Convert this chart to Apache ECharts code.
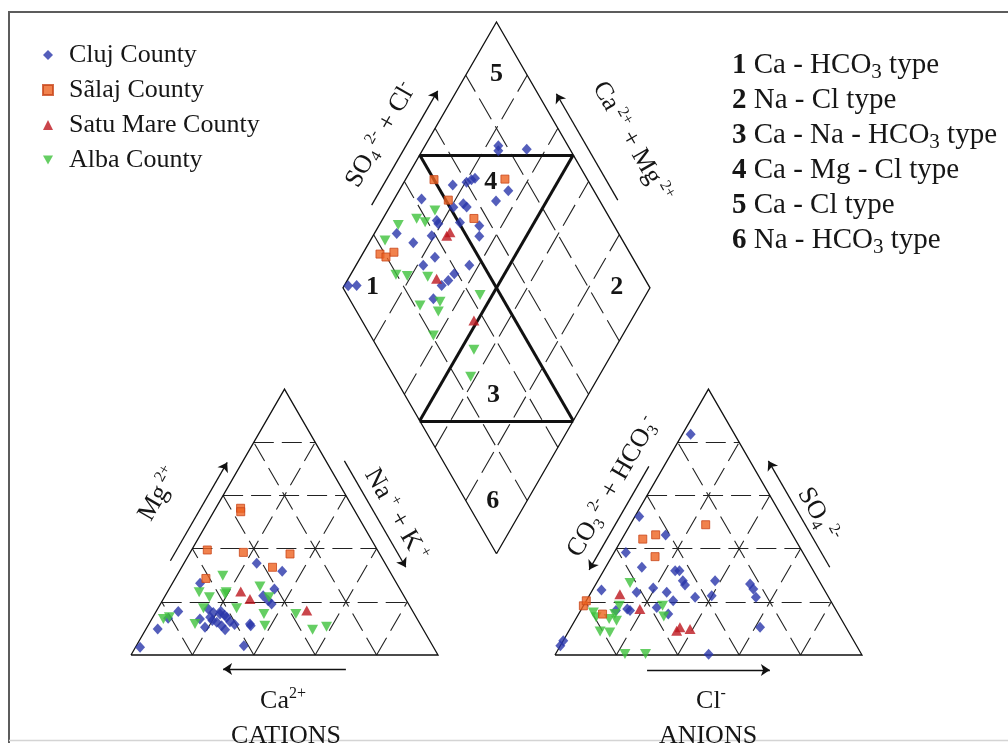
<!DOCTYPE html>
<html>
<head>
<meta charset="utf-8">
<script src="https://cdn.jsdelivr.net/npm/echarts@6/dist/echarts.min.js"></script>
<style>
  html, body { margin: 0; padding: 0; background: #ffffff; }
  #main { width: 1008px; height: 743px; }
</style>
</head>
<body>
<div id="main"></div>
<script>
// ---- Sample compositions (meq %) ----
// Cation triangle: [Mg2+, Na+ + K+]  (Ca2+ is the remainder)
const clujCations = [
  [34.5, 23.7], [31.5, 33.5], [27.0, 9.0], [24.8, 34.3], [22.3, 31.9], [20.4, 34.5],
  [19.2, 36.2], [16.4, 7.2], [13.8, 5.2], [9.8, 3.8], [2.9, 1.5],
  [17.3, 16.5], [16.0, 18.8], [15.4, 21.3], [14.2, 24.1], [12.3, 21.8], [11.0, 24.0],
  [14.2, 18.7], [10.4, 18.9], [12.5, 26.0], [9.5, 25.9], [13.5, 15.7], [13.0, 20.0],
  [15.0, 23.0], [11.5, 28.0], [16.5, 21.0], [11.7, 32.9], [11.0, 33.5], [3.5, 35.0]
];
const salajCations = [
  [55.2, 8.1], [53.9, 8.8], [39.5, 5.1], [38.6, 17.3], [38.0, 32.8], [33.0, 29.6], [28.8, 10.0]
];
const satuMareCations = [
  [23.9, 23.8], [21.1, 28.2], [16.7, 48.9]
];
const albaCations = [
  [23.6, 10.4], [21.7, 14.7], [23.6, 19.2], [29.8, 15.0], [22.9, 19.2], [25.8, 29.1],
  [21.7, 34.1], [17.6, 25.6], [15.4, 35.6], [11.0, 38.1], [17.6, 14.8], [14.2, 5.4],
  [13.5, 3.8], [11.7, 15.0], [15.4, 46.0], [9.5, 54.4], [10.6, 58.4]
];

// Anion triangle: [SO4 2-, Cl-]  (CO3 2- + HCO3- is the remainder)
const clujAnions = [
  [83.0, 2.7], [52.1, 1.4], [45.1, 13.5], [38.6, 3.8], [33.0, 11.8], [31.7, 23.3],
  [31.7, 24.7], [27.9, 27.7], [26.3, 29.2], [27.9, 38.2], [22.3, 39.9], [21.7, 34.8],
  [25.2, 19.4], [23.6, 24.6], [23.6, 14.8], [24.5, 2.9], [20.4, 28.3], [17.9, 24.2],
  [15.4, 29.2], [16.7, 16.1], [26.7, 50.2], [24.8, 52.2], [21.7, 54.6], [10.4, 61.6],
  [0.3, 49.9], [3.5, 0.0], [5.4, 0.0], [17.3, 14.9], [16.7, 11.5]
];
const salajAnions = [
  [49.0, 24.6], [45.2, 10.2], [43.6, 6.8], [37.0, 14.1], [18.5, 0.0], [20.4, 0.0], [15.4, 7.8]
];
const satuMareAnions = [
  [22.9, 9.7], [17.3, 19.0], [10.4, 35.5], [9.8, 39.1], [9.1, 35.1]
];
const albaAnions = [
  [27.1, 10.9], [18.5, 11.7], [14.2, 6.3], [13.5, 10.9], [12.9, 13.6], [8.8, 10.3],
  [8.5, 13.6], [0.4, 22.6], [0.4, 29.3], [18.5, 25.8], [14.5, 28.2], [16.0, 4.5], [15.4, 11.8]
];

// Diamond: [SO4 2- + Cl-, Ca2+ + Mg2+]
const clujDiamond = [
  [77.3, 76.1], [76.4, 75.2], [85.9, 66.2], [60.1, 79.6], [62.2, 78.5], [63.6, 77.6],
  [55.1, 83.6], [72.1, 64.4], [66.2, 66.5], [42.3, 91.1], [51.1, 79.2], [55.0, 76.6],
  [55.5, 74.9], [43.2, 82.1], [43.1, 81.0], [50.4, 74.2], [56.1, 67.3], [54.1, 65.3],
  [27.7, 92.7], [31.4, 85.6], [38.7, 80.9], [35.7, 75.8], [30.4, 78.1], [45.4, 63.1],
  [38.9, 66.4], [35.7, 67.1], [32.6, 68.3], [2.1, 98.7], [4.9, 96.0], [27.4, 68.5]
];
const salajDiamond = [
  [50.0, 90.7], [73.2, 67.7], [50.8, 82.2], [55.7, 70.4], [18.4, 94.3], [19.8, 91.8], [23.3, 90.1]
];
const satuMareDiamond = [
  [43.6, 76.0], [45.3, 75.6], [32.2, 71.2], [36.5, 51.2]
];
const albaDiamond = [
  [44.5, 84.6], [37.0, 89.0], [39.1, 85.6], [29.8, 93.8], [22.6, 95.2], [19.7, 85.2],
  [23.2, 81.3], [29.7, 74.5], [21.8, 71.6], [26.6, 64.5], [29.0, 65.8], [43.3, 54.0],
  [20.5, 61.6], [31.0, 45.7], [24.9, 41.7]
];

const countyNames = ['Cluj County', 'Sãlaj County', 'Satu Mare County', 'Alba County'];
const gridSteps = [20, 40, 60, 80];
const facies = [
  { num: '1', name: 'Ca - HCO{s|3} type' },
  { num: '2', name: 'Na - Cl type' },
  { num: '3', name: 'Ca - Na - HCO{s|3} type' },
  { num: '4', name: 'Ca - Mg - Cl type' },
  { num: '5', name: 'Ca - Cl type' },
  { num: '6', name: 'Na - HCO{s|3} type' }
];

// ---- Piper layout in diagram units (triangle side = 100) ----
const PX = 3.07;                       // screen pixels per diagram unit
const W = 1008 / PX, H = 743 / PX;
const GAP = 38.1, R3 = Math.sqrt(3) / 2;
const X0 = 42.67, Y0 = 28.66;          // lower-left corner of the cation triangle
const AX0 = X0 + 100 + GAP;            // lower-left corner of the anion triangle
const BX = X0 + 100 + GAP / 2, BY = Y0 + GAP * R3;   // bottom vertex of the diamond

function cationXY(mg, nak) { return [X0 + mg / 2 + nak, Y0 + mg * R3]; }
function anionXY(so4, cl) { return [AX0 + so4 / 2 + cl, Y0 + so4 * R3]; }
function diamondXY(s, c) { return [BX + (s - c) / 2, BY + (s + c) * R3]; }

// point at fraction t along P->Q, pushed d units away from centre C
function beside(P, Q, t, d, C) {
  const dx = Q[0] - P[0], dy = Q[1] - P[1], len = Math.hypot(dx, dy);
  let nx = -dy / len, ny = dx / len;
  const mx = P[0] + dx * t, my = P[1] + dy * t;
  if ((mx - C[0]) * nx + (my - C[1]) * ny < 0) { nx = -nx; ny = -ny; }
  return [mx + nx * d, my + ny * d];
}
function arrow(P, Q, t0, t1, dPx, C) {
  return { coords: [beside(P, Q, t0, dPx / PX, C), beside(P, Q, t1, dPx / PX, C)] };
}

// outlines
const outline = [
  { coords: [cationXY(0, 0), cationXY(100, 0), cationXY(0, 100), cationXY(0, 0)] },
  { coords: [anionXY(0, 0), anionXY(100, 0), anionXY(0, 100), anionXY(0, 0)] },
  { coords: [diamondXY(0, 0), diamondXY(100, 0), diamondXY(100, 100), diamondXY(0, 100), diamondXY(0, 0)] }
];

// dashed 20 % grid
const triGrid = [], diaGrid = [];
gridSteps.forEach(k => {
  [cationXY, anionXY].forEach(f => {
    triGrid.push({ coords: [f(k, 0), f(k, 100 - k)] });
    triGrid.push({ coords: [f(0, k), f(100 - k, k)] });
    triGrid.push({ coords: [f(0, 100 - k), f(100 - k, 0)] });
  });
  diaGrid.push({ coords: [diamondXY(k, 0), diamondXY(k, 100)] });
  diaGrid.push({ coords: [diamondXY(0, k), diamondXY(100, k)] });
});

// hydrochemical facies boundaries
const faciesLines = [
  { coords: [diamondXY(50, 100), diamondXY(100, 50)] },
  { coords: [diamondXY(0, 50), diamondXY(50, 0)] },
  { coords: [diamondXY(50, 100), diamondXY(50, 0)] },
  { coords: [diamondXY(100, 50), diamondXY(0, 50)] }
];

// axis direction arrows
const cBL = cationXY(0, 0), cTop = cationXY(100, 0), cBR = cationXY(0, 100);
const aBL = anionXY(0, 0), aTop = anionXY(100, 0), aBR = anionXY(0, 100);
const dL = diamondXY(0, 100), dT = diamondXY(100, 100), dR = diamondXY(100, 0);
const cC = cationXY(33.3, 33.3), aC = anionXY(33.3, 33.3), dC = diamondXY(50, 50);
const arrows = [
  arrow(cBL, cTop, 0.33, 0.70, 13, cC),
  arrow(cTop, cBR, 0.30, 0.70, 16, cC),
  arrow(cBL, cBR, 0.70, 0.30, 14, cC),
  arrow(aBL, aTop, 0.685, 0.296, 13, aC),
  arrow(aTop, aBR, 0.70, 0.30, 16, aC),
  arrow(aBL, aBR, 0.30, 0.70, 15, aC),
  arrow(dL, dT, 0.28, 0.71, 16.5, dC),
  arrow(dR, dT, 0.30, 0.70, 16, dC)
];

function county(c, a, d) {
  return [].concat(c.map(p => cationXY(p[0], p[1])), a.map(p => anionXY(p[0], p[1])), d.map(p => diamondXY(p[0], p[1])));
}

const FONT = "'Liberation Serif', 'Times New Roman', serif";
const INK = '#161616';

const chart = echarts.init(document.getElementById('main'));

chart.setOption({
  animation: false,
  backgroundColor: '#ffffff',
  grid: { left: 0, right: 0, top: 0, bottom: 0 },
  xAxis: { type: 'value', min: 0, max: W, show: false },
  yAxis: { type: 'value', min: 0, max: H, show: false },
  legend: {
    data: countyNames,
    orient: 'vertical',
    left: 37, top: 35,
    itemWidth: 10, itemHeight: 10, itemGap: 5,
    selectedMode: false,
    textStyle: { fontFamily: FONT, fontSize: 26, color: INK, lineHeight: 30, padding: [0, 0, 0, 11] }
  },
  series: [
    { type: 'lines', coordinateSystem: 'cartesian2d', polyline: true, silent: true, z: 2,
      lineStyle: { color: '#111', width: 1.3, opacity: 1 }, data: outline },
    { type: 'lines', coordinateSystem: 'cartesian2d', silent: true, z: 1,
      lineStyle: { color: '#222', width: 1.1, type: [20, 8], opacity: 1 }, data: triGrid },
    { type: 'lines', coordinateSystem: 'cartesian2d', silent: true, z: 1,
      lineStyle: { color: '#222', width: 1.1, type: [24, 8], opacity: 1 }, data: diaGrid },
    { type: 'lines', coordinateSystem: 'cartesian2d', silent: true, z: 2,
      lineStyle: { color: '#111', width: 3, opacity: 1 }, data: faciesLines },
    { type: 'lines', coordinateSystem: 'cartesian2d', silent: true, z: 2,
      symbol: ['none', 'arrow'], symbolSize: 9,
      lineStyle: { color: '#111', width: 1.3, opacity: 1 }, data: arrows },
    { name: 'Cluj County', type: 'scatter', z: 3, symbol: 'diamond', symbolSize: [10, 11],
      itemStyle: { color: '#2936aa' }, data: county(clujCations, clujAnions, clujDiamond) },
    { name: 'Alba County', type: 'scatter', z: 4, symbol: 'path://M0,0L10,0L5,9Z', symbolSize: [11, 10],
      itemStyle: { color: '#3fc23c' }, data: county(albaCations, albaAnions, albaDiamond) },
    { name: 'Sãlaj County', type: 'scatter', z: 5, symbol: 'rect', symbolSize: 8,
      itemStyle: { color: '#ee6320', borderColor: '#c8461a', borderWidth: 1 },
      data: county(salajCations, salajAnions, salajDiamond) },
    { name: 'Satu Mare County', type: 'scatter', z: 6, symbol: 'triangle', symbolSize: [11, 10],
      itemStyle: { color: '#bd161e' }, data: county(satuMareCations, satuMareAnions, satuMareDiamond) }
  ]
});

// ---- text: axis titles, facies numbers, facies key, frame ----
const richBase = {
  n: { fontFamily: FONT, fontSize: 26, lineHeight: 30, fill: INK, color: INK },
  sup: { fontFamily: FONT, fontSize: 16, lineHeight: 12, verticalAlign: 'top', fill: INK, color: INK },
  sub: { fontFamily: FONT, fontSize: 16, lineHeight: 20, verticalAlign: 'bottom', fill: INK, color: INK }
};
function label(x, y, deg, text) {
  return {
    type: 'text', x: x, y: y, rotation: deg * Math.PI / 180, silent: true, z: 10,
    style: { text: text, rich: richBase, align: 'center', verticalAlign: 'middle',
             textAlign: 'center', textVerticalAlign: 'middle', fill: INK }
  };
}
const toPx = p => chart.convertToPixel({ gridIndex: 0 }, p);

const zoneSpots = [[9.8, 90.5], [89.3, 11.0], [28.8, 30.8], [68.0, 71.8], [90.2, 90.2], [8.7, 11.1]];
const zoneLabels = zoneSpots.map((s, i) => {
  const p = toPx(diamondXY(s[0], s[1]));
  return {
    type: 'text', x: p[0], y: p[1], silent: true, z: 10,
    style: { text: String(i + 1), font: 'bold 26px ' + FONT, fill: INK,
             align: 'center', verticalAlign: 'middle', textAlign: 'center', textVerticalAlign: 'middle' }
  };
});

const keyText = facies.map(f => '{b|' + f.num + '} ' + f.name).join('\n');

chart.setOption({
  graphic: [
    { type: 'polyline', silent: true, z: 0,
      shape: { points: [[9, 743], [9, 12], [1008, 12]] },
      style: { stroke: '#5c5c5c', lineWidth: 2, fill: null } },
    { type: 'line', silent: true, z: 0,
      shape: { x1: 9, y1: 740.5, x2: 1008, y2: 740.5 },
      style: { stroke: '#d4d4d4', lineWidth: 1.5 } },
    label(159, 494, 60, '{n|Mg}{sup| 2+}'),
    label(396, 515, -60, '{n|Na}{sup| +}{n| + K}{sup| +}'),
    label(283, 701, 0, '{n|Ca}{sup|2+}'),
    label(286, 736, 0, '{n|CATIONS}'),
    label(613, 487, 60, '{n|CO}{sub|3}{sup| 2-}{n| + HCO}{sub|3}{sup|-}'),
    label(818, 515, -60, '{n|SO}{sub|4}{sup| 2-}'),
    label(711, 701, 0, '{n|Cl}{sup|-}'),
    label(708, 736, 0, '{n|ANIONS}'),
    label(381, 135, 60, '{n|SO}{sub|4}{sup| 2-}{n| + Cl}{sup|-}'),
    label(632, 142, -60, '{n|Ca}{sup| 2+}{n| + Mg}{sup| 2+}'),
    ...zoneLabels,
    {
      type: 'text', x: 732, y: 48, silent: true, z: 10,
      style: {
        text: keyText, fontFamily: FONT, fontSize: 29, lineHeight: 35, fill: INK,
        align: 'left', verticalAlign: 'top', textAlign: 'left', textVerticalAlign: 'top',
        rich: {
          b: { fontFamily: FONT, fontSize: 29, fontWeight: 'bold', lineHeight: 35, fill: INK, color: INK },
          s: { fontFamily: FONT, fontSize: 21, lineHeight: 26, verticalAlign: 'bottom', fill: INK, color: INK }
        }
      }
    }
  ]
});
</script>
</body>
</html>
